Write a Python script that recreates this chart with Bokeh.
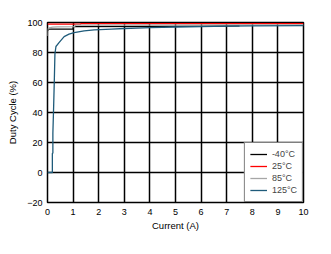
from bokeh.plotting import figure
from bokeh.models import FixedTicker, Legend, LegendItem, Label, Range1d
from bokeh.embed import file_html
from bokeh.resources import INLINE

# ---- data ----
x_ticks = [0, 1, 2, 3, 4, 5, 6, 7, 8, 9, 10]
y_ticks = [-20, 0, 20, 40, 60, 80, 100]

series_names = ["-40°C", "25°C", "85°C", "125°C"]
series_colors = ["#000000", "#FF0000", "#A6A6A6", "#1F5B7A"]

cur_m40 = [0.0, 0.03, 0.03, 1.0, 1.0, 4.5, 7.5]
duty_m40 = [94.5, 94.8, 95.6, 95.6, 97.3, 97.4, 97.7]

cur_25 = [0.0, 1.3, 1.3, 10.0]
duty_25 = [98.9, 98.9, 99.3, 99.3]

cur_85 = [0.0, 0.02, 0.1, 0.2, 0.38, 1.05, 1.1, 10.0]
duty_85 = [91.0, 96.0, 96.6, 96.9, 97.1, 97.3, 98.2, 98.4]

cur_125 = [0.0, 0.19, 0.19, 0.21, 0.21, 0.24, 0.27, 0.29, 0.33, 0.45, 0.65,
           0.84, 1.04, 1.43, 1.82, 2.5, 3.0, 4.0, 5.0, 6.0, 7.0, 8.0, 10.0]
duty_125 = [0.0, 0.0, 12.7, 13.0, 26.0, 44.0, 64.0, 79.0, 84.0, 86.6, 90.6,
            92.2, 93.3, 94.4, 95.1, 95.6, 96.0, 96.6, 97.0, 97.3, 97.6, 97.8, 97.9]

FONT = "Liberation Sans"

p = figure(width=331, height=254, output_backend="svg", toolbar_location=None,
           x_range=Range1d(0, 10), y_range=Range1d(-20, 100),
           min_border_left=47, min_border_right=28, min_border_top=22, min_border_bottom=52)
p.background_fill_color = "white"
p.border_fill_color = "white"
p.outline_line_color = "black"
p.outline_line_width = 1.5

p.xaxis.ticker = FixedTicker(ticks=x_ticks)
p.yaxis.ticker = FixedTicker(ticks=y_ticks)
p.xgrid.ticker = FixedTicker(ticks=x_ticks)
p.ygrid.ticker = FixedTicker(ticks=y_ticks)
for g in (p.xgrid, p.ygrid):
    g.grid_line_color = "black"
    g.grid_line_width = 1.5
    g.grid_line_alpha = 1.0

for ax in (p.xaxis, p.yaxis):
    ax.axis_line_color = None
    ax.major_tick_line_color = None
    ax.minor_tick_line_color = None
    ax.major_tick_out = 0
    ax.major_tick_in = 0
    ax.major_label_text_font = FONT
    ax.major_label_text_font_size = "9px"
    ax.major_label_text_color = "black"
    ax.axis_label_text_font = FONT
    ax.axis_label_text_font_size = "9.5px"
    ax.axis_label_text_font_style = "normal"
    ax.axis_label_text_color = "black"

p.xaxis.axis_label = "Current (A)"
p.yaxis.axis_label = "Duty Cycle (%)"
p.xaxis.major_label_standoff = 6
p.xaxis.axis_label_standoff = 2
p.yaxis.major_label_standoff = 5
p.yaxis.axis_label_standoff = 6

xs = [cur_m40, cur_25, cur_85, cur_125]
ys = [duty_m40, duty_25, duty_85, duty_125]
renderers = []
for xv, yv, c in zip(xs, ys, series_colors):
    r = p.line(xv, yv, line_color=c, line_width=1.3)
    renderers.append(r)

items = [LegendItem(label=n, renderers=[r]) for n, r in zip(series_names, renderers)]
legend = Legend(items=items, location="bottom_right", margin=0, padding=5, spacing=0,
                glyph_width=17, glyph_height=12, label_height=12, label_standoff=5,
                label_text_font=FONT, label_text_font_size="9px",
                border_line_color="black", border_line_width=1.5,
                background_fill_color="white", background_fill_alpha=1.0)
p.add_layout(legend, "center")

p.add_layout(Label(x=10.03, y=-41, text="D004", text_font=FONT, text_font_size="6px",
                   text_color="#8C8C8C", text_baseline="middle", text_align="left"))

open("out.html", "w").write(file_html(p, INLINE))
